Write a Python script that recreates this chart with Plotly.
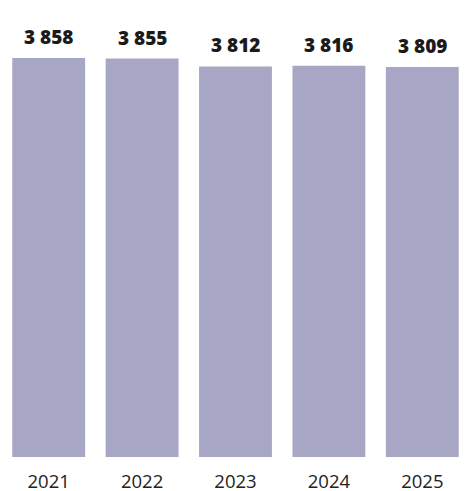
import plotly.graph_objects as go

years = ["2021", "2022", "2023", "2024", "2025"]
values = [3858, 3855, 3812, 3816, 3809]
labels = ["3 858", "3 855", "3 812", "3 816", "3 809"]

BAR_COLOR = "#A7A6C4"

fig = go.Figure(go.Bar(x=years, y=values, marker_color=BAR_COLOR, marker_line_width=0, hoverinfo="skip"))

for i, (v, lab) in enumerate(zip(values, labels)):
    fig.add_annotation(x=i, y=v, text=lab, showarrow=False, yanchor="bottom", yshift=6,
                       font=dict(family="Open Sans", size=19, color="#1a1a1a", weight=800))

fig.update_layout(
    width=472, height=491,
    margin=dict(l=2, r=3, t=20, b=34),
    paper_bgcolor="white", plot_bgcolor="white",
    bargap=0.22, showlegend=False,
    xaxis=dict(type="category", range=[-0.5, len(years) - 0.5], showgrid=False, zeroline=False,
               showline=False, ticks="outside", ticklen=8, tickcolor="rgba(0,0,0,0)", automargin=False,
               tickfont=dict(family="Open Sans", size=18.5, color="#222222")),
    yaxis=dict(visible=False, range=[1686, 4065]),
)

fig.write_html("out.html", config={"displayModeBar": False},
               post_script="document.body.style.margin='0';document.body.style.overflow='hidden';")
